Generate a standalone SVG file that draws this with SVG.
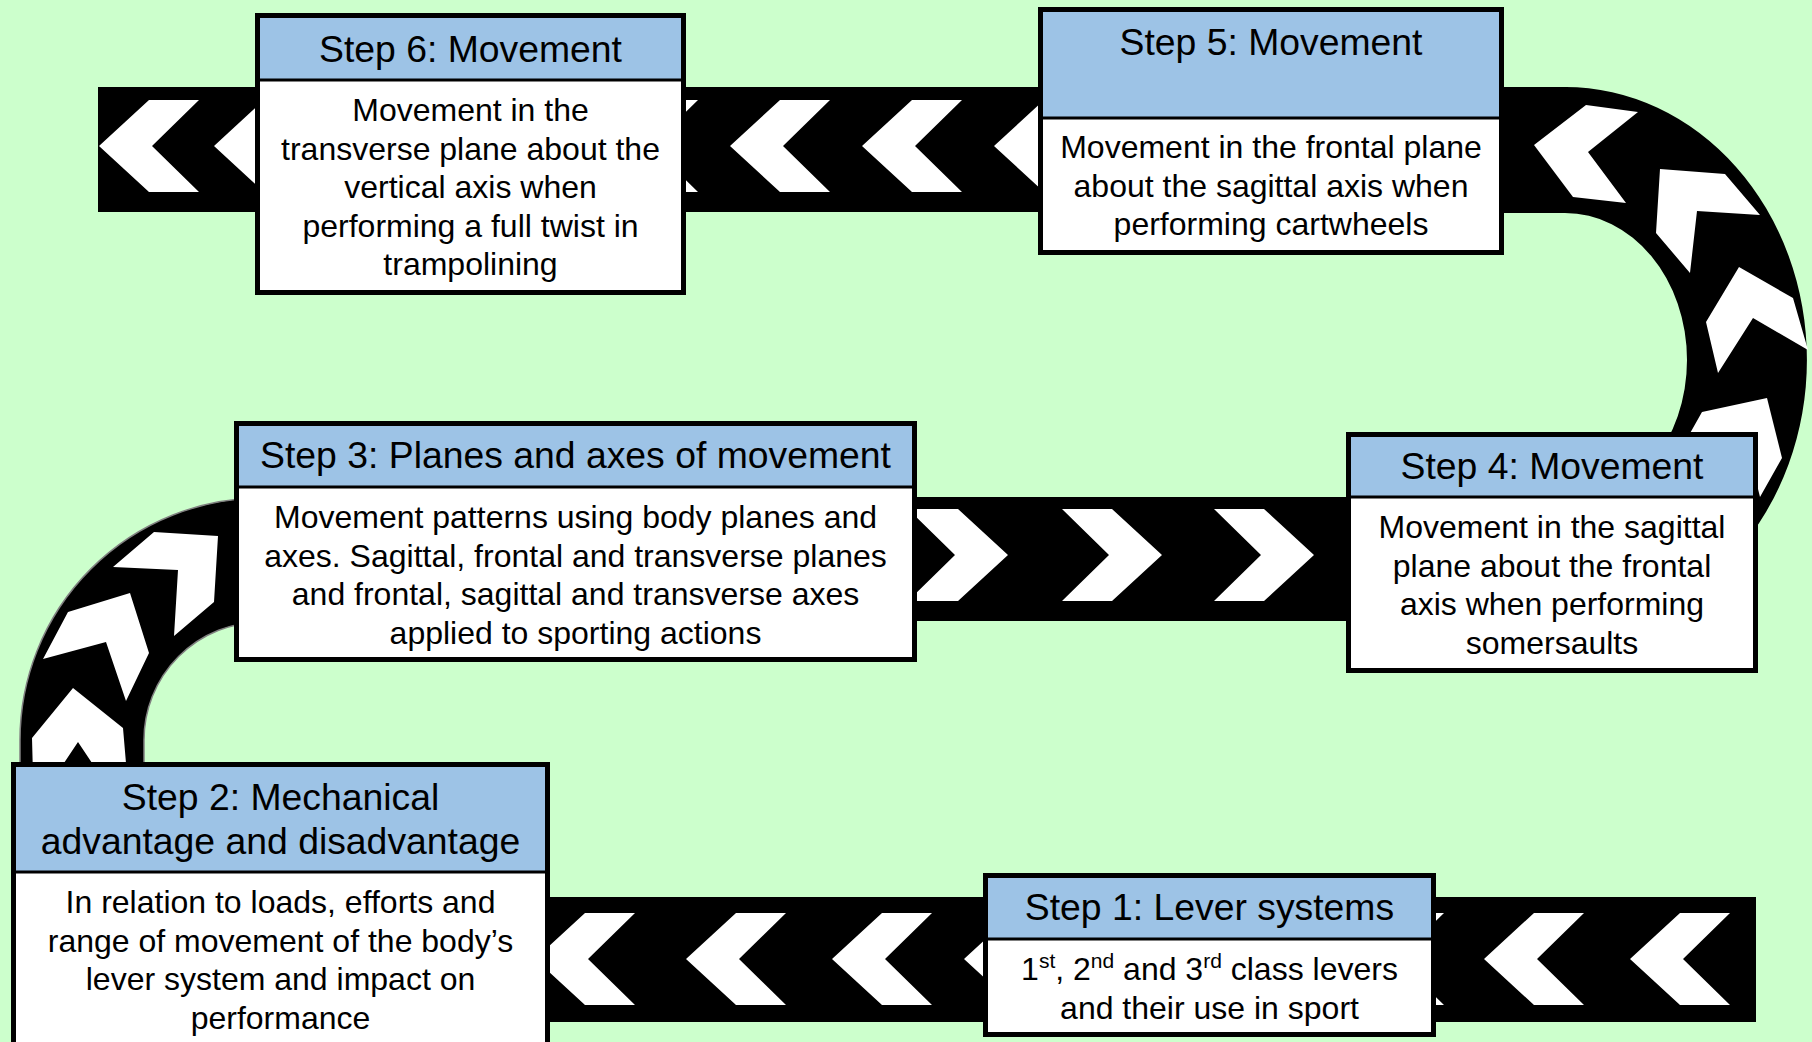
<svg xmlns="http://www.w3.org/2000/svg" xmlns:xlink="http://www.w3.org/1999/xlink" width="1812" height="1042" viewBox="0 0 1812 1042">
<defs>
<style>
.band{fill:#000}
.arcl{fill:#000;stroke:#808080;stroke-width:1.5}
.chev{fill:#fff}
.hdr{fill:#9DC3E6}
.bod{fill:#fff}
.frame{fill:none;stroke:#000;stroke-width:5}
.div{stroke:#000;stroke-width:3}
.t{font-family:'Liberation Sans',Arial,sans-serif;font-size:37.33px;fill:#000;text-anchor:middle}
.b{font-family:'Liberation Sans',Arial,sans-serif;font-size:32px;fill:#000;text-anchor:middle}
</style>
<polygon id="chevL" class="chev" points="0,0 50,-46 100,-46 53,0 100,46 50,46"/>
<polygon id="chevR" class="chev" points="0,0 -50,-46 -100,-46 -53,0 -100,46 -50,46"/>
</defs>
<rect width="1812" height="1042" fill="#CCFFCC"/>
<g id="connectors">
  <!-- top band -->
  <rect class="band" x="98" y="87" width="1470" height="125"/>
  <!-- right arc -->
  <path class="band" d="M1490,87 L1565,87 A242,273 0 0 1 1565,633 L1500,633 L1500,507 L1565,507 A122,147 0 0 0 1565,213 L1490,213 Z"/>
  <!-- middle band -->
  <rect class="band" x="900" y="497" width="470" height="124"/>
  <!-- left arc -->
  <path class="arcl" d="M300,498 L262,498 A242,242 0 0 0 20,740 L20,800 L144,800 L144,740 A118,118 0 0 1 262,622 L300,622 Z"/>
  <!-- bottom band -->
  <rect class="band" x="530" y="897" width="1226" height="125"/>

  <!-- top band chevrons -->
  <use href="#chevL" x="99" y="146"/>
  <use href="#chevL" x="214" y="146"/>
  <use href="#chevL" x="598" y="146"/>
  <use href="#chevL" x="730" y="146"/>
  <use href="#chevL" x="862" y="146"/>
  <use href="#chevL" x="994" y="146"/>
  <!-- right arc chevrons -->
  <polygon class="chev" points="1534,145 1586,105 1638,112 1588,152 1626,203 1573,197"/>
  <polygon class="chev" points="1660,169 1725,174 1760,215 1697,211 1690,273 1656,233"/>
  <polygon class="chev" points="1739,267 1793,298 1808,350 1753,318 1718,373 1706,322"/>
  <polygon class="chev" points="1767,398 1782,458 1760,497 1745,437 1680,451 1702,412"/>
  <!-- middle band chevrons -->
  <use href="#chevR" x="1008" y="555"/>
  <use href="#chevR" x="1162" y="555"/>
  <use href="#chevR" x="1314" y="555"/>
  <!-- left arc chevrons -->
  <polygon class="chev" points="218,536 214,602 174,636 178,570 113,567 154,532"/>
  <polygon class="chev" points="130,593 149,653 126,701 106,642 43,659 68,612"/>
  <polygon class="chev" points="73,688 123,728 127,775 100,775 78,742 56,775 33,775 32,738"/>
  <!-- bottom band chevrons -->
  <use href="#chevL" x="535" y="959"/>
  <use href="#chevL" x="686" y="959"/>
  <use href="#chevL" x="832" y="959"/>
  <use href="#chevL" x="964" y="959"/>
  <use href="#chevL" x="1344" y="959"/>
  <use href="#chevL" x="1484" y="959"/>
  <use href="#chevL" x="1630" y="959"/>
</g>

<g id="step6">
  <rect class="bod" x="257.5" y="15.5" width="426" height="277"/>
  <rect class="hdr" x="257.5" y="15.5" width="426" height="64.5"/>
  <line class="div" x1="257.5" y1="80" x2="683.5" y2="80"/>
  <rect class="frame" x="257.5" y="15.5" width="426" height="277"/>
  <text class="t" x="470.5" y="62">Step 6: Movement</text>
  <text class="b" x="470.5" y="121">Movement in the</text>
  <text class="b" x="470.5" y="159.5">transverse plane about the</text>
  <text class="b" x="470.5" y="198">vertical axis when</text>
  <text class="b" x="470.5" y="236.5">performing a full twist in</text>
  <text class="b" x="470.5" y="275">trampolining</text>
</g>

<g id="step5">
  <rect class="bod" x="1040.5" y="9.5" width="461" height="243"/>
  <rect class="hdr" x="1040.5" y="9.5" width="461" height="108.5"/>
  <line class="div" x1="1040.5" y1="118" x2="1501.5" y2="118"/>
  <rect class="frame" x="1040.5" y="9.5" width="461" height="243"/>
  <text class="t" x="1271" y="55">Step 5: Movement</text>
  <text class="b" x="1271" y="158">Movement in the frontal plane</text>
  <text class="b" x="1271" y="196.5">about the sagittal axis when</text>
  <text class="b" x="1271" y="235">performing cartwheels</text>
</g>

<g id="step4">
  <rect class="bod" x="1348.5" y="434.5" width="407" height="236"/>
  <rect class="hdr" x="1348.5" y="434.5" width="407" height="62.5"/>
  <line class="div" x1="1348.5" y1="497" x2="1755.5" y2="497"/>
  <rect class="frame" x="1348.5" y="434.5" width="407" height="236"/>
  <text class="t" x="1552" y="479">Step 4: Movement</text>
  <text class="b" x="1552" y="538">Movement in the sagittal</text>
  <text class="b" x="1552" y="576.5">plane about the frontal</text>
  <text class="b" x="1552" y="615">axis when performing</text>
  <text class="b" x="1552" y="653.5">somersaults</text>
</g>

<g id="step3">
  <rect class="bod" x="236.5" y="423.5" width="678" height="236"/>
  <rect class="hdr" x="236.5" y="423.5" width="678" height="63.5"/>
  <line class="div" x1="236.5" y1="487" x2="914.5" y2="487"/>
  <rect class="frame" x="236.5" y="423.5" width="678" height="236"/>
  <text class="t" x="575.5" y="468">Step 3: Planes and axes of movement</text>
  <text class="b" x="575.5" y="528">Movement patterns using body planes and</text>
  <text class="b" x="575.5" y="566.5">axes. Sagittal, frontal and transverse planes</text>
  <text class="b" x="575.5" y="605">and frontal, sagittal and transverse axes</text>
  <text class="b" x="575.5" y="643.5">applied to sporting actions</text>
</g>

<g id="step2">
  <rect class="bod" x="13.5" y="764.5" width="534" height="300"/>
  <rect class="hdr" x="13.5" y="764.5" width="534" height="107.5"/>
  <line class="div" x1="13.5" y1="872" x2="547.5" y2="872"/>
  <rect class="frame" x="13.5" y="764.5" width="534" height="300"/>
  <text class="t" x="280.5" y="810">Step 2: Mechanical</text>
  <text class="t" x="280.5" y="854">advantage and disadvantage</text>
  <text class="b" x="280.5" y="913">In relation to loads, efforts and</text>
  <text class="b" x="280.5" y="951.5">range of movement of the body’s</text>
  <text class="b" x="280.5" y="990">lever system and impact on</text>
  <text class="b" x="280.5" y="1028.5">performance</text>
</g>

<g id="step1">
  <rect class="bod" x="985.5" y="875.5" width="448" height="159"/>
  <rect class="hdr" x="985.5" y="875.5" width="448" height="63.5"/>
  <line class="div" x1="985.5" y1="939" x2="1433.5" y2="939"/>
  <rect class="frame" x="985.5" y="875.5" width="448" height="159"/>
  <text class="t" x="1209.5" y="920">Step 1: Lever systems</text>
  <text class="b" x="1209.5" y="980">1<tspan font-size="21" dy="-12">st</tspan><tspan dy="12">, 2</tspan><tspan font-size="21" dy="-12">nd</tspan><tspan dy="12"> and 3</tspan><tspan font-size="21" dy="-12">rd</tspan><tspan dy="12"> class levers</tspan></text>
  <text class="b" x="1209.5" y="1018.5">and their use in sport</text>
</g>
</svg>
